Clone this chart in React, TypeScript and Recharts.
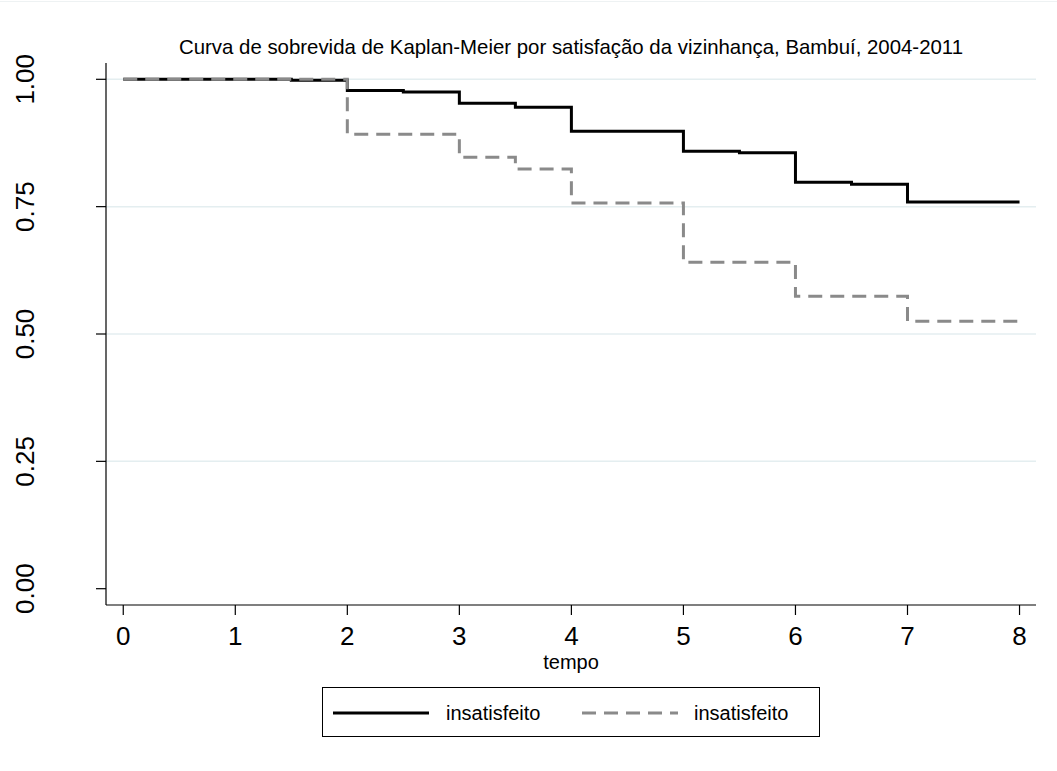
import React from 'react';
import { LineChart, Line, XAxis, YAxis, CartesianGrid, Legend } from 'recharts';

// Kaplan-Meier estimates (step changes only)
const tempo = [0, 1.5, 2, 2.5, 3, 3.5, 4, 5, 5.5, 6, 6.5, 7, 8];
const grupo1 = [1, 0.998, 0.978, 0.975, 0.953, 0.945, 0.898, 0.859, 0.856, 0.798, 0.794, 0.759, 0.759];
const grupo2 = [1, 1, 0.892, 0.892, 0.847, 0.824, 0.757, 0.641, 0.641, 0.574, 0.574, 0.525, 0.525];
const xTicks = [0, 1, 2, 3, 4, 5, 6, 7, 8];
const yTicks = [0, 0.25, 0.5, 0.75, 1];
const gridValues = [0.25, 0.5, 0.75, 1];
const legendLabels = ['insatisfeito', 'insatisfeito'];
const title = 'Curva de sobrevida de Kaplan-Meier por satisfação da vizinhança, Bambuí, 2004-2011';

const data = tempo.map((t, i) => ({ t, g1: grupo1[i], g2: grupo2[i] }));

const FONT = '"Liberation Sans", Arial, sans-serif';
const GRAY = '#8a8a8a';

function YTick({ y, payload }: any) {
  return (
    <text
      transform={`translate(25, ${y}) rotate(-90)`}
      textAnchor="middle"
      dominantBaseline="central"
      fontSize={26}
      fontFamily={FONT}
      fill="#000"
    >
      {Number(payload.value).toFixed(2)}
    </text>
  );
}

function LegendBox() {
  return (
    <div
      style={{
        width: 498,
        height: 50,
        border: '1px solid #000',
        boxSizing: 'border-box',
        position: 'relative',
        fontFamily: FONT,
        fontSize: 20,
        background: '#fff',
      }}
    >
      <svg width={498} height={50} style={{ position: 'absolute', left: 0, top: 0 }}>
        <line x1={10} x2={106} y1={25} y2={25} stroke="#000" strokeWidth={3} />
        <line x1={259} x2={355} y1={25} y2={25} stroke={GRAY} strokeWidth={3} strokeDasharray="14 8" />
        <text x={123} y={25} dominantBaseline="central" fontSize={20} fontFamily={FONT}>{legendLabels[0]}</text>
        <text x={371} y={25} dominantBaseline="central" fontSize={20} fontFamily={FONT}>{legendLabels[1]}</text>
      </svg>
    </div>
  );
}

export default function App() {
  return (
    <div style={{ position: 'absolute', left: 0, top: 0, width: 1057, height: 771, background: '#fff', fontFamily: FONT }}>
      <div style={{ position: 'absolute', left: 0, right: 0, top: 1, height: 1, background: '#eef2f3' }} />
      <div
        style={{ position: 'absolute', left: 106, width: 930, top: 35, textAlign: 'center', fontSize: 20.4, lineHeight: '24px', color: '#000' }}
      >
        {title}
      </div>
      <LineChart
        width={1057}
        height={771}
        data={data}
        margin={{ top: 63, right: 21, bottom: 106, left: 16 }}
      >
        <CartesianGrid horizontal vertical={false} horizontalValues={gridValues} stroke="#e4eef0" strokeWidth={1.5} />
        <XAxis
          dataKey="t"
          type="number"
          domain={[-0.154, 8.147]}
          ticks={xTicks}
          allowDataOverflow
          height={60}
          tickSize={10}
          tickMargin={12}
          axisLine={{ stroke: '#000', strokeWidth: 1.2 }}
          tickLine={{ stroke: '#000', strokeWidth: 1.2 }}
          tick={{ fontSize: 26, fill: '#000', fontFamily: FONT }}
        />
        <YAxis
          type="number"
          domain={[-0.032, 1.032]}
          ticks={yTicks}
          allowDataOverflow
          width={90}
          tickSize={10}
          axisLine={{ stroke: '#000', strokeWidth: 1.2 }}
          tickLine={{ stroke: '#000', strokeWidth: 1.2 }}
          tick={<YTick />}
        />
        <Line
          type="stepAfter"
          dataKey="g1"
          name={legendLabels[0]}
          stroke="#000"
          strokeWidth={3}
          strokeLinejoin="miter"
          dot={false}
          activeDot={false}
          isAnimationActive={false}
        />
        <Line
          type="stepAfter"
          dataKey="g2"
          name={legendLabels[1]}
          stroke={GRAY}
          strokeWidth={3}
          strokeDasharray="14 8"
          strokeLinejoin="miter"
          dot={false}
          activeDot={false}
          isAnimationActive={false}
        />
        <Legend
          layout="horizontal"
          verticalAlign="middle"
          align="center"
          wrapperStyle={{ position: 'absolute', left: 322, top: 687, width: 498, height: 50 }}
          content={() => <LegendBox />}
        />
      </LineChart>
      <div style={{ position: 'absolute', left: 106, width: 930, top: 650, textAlign: 'center', fontSize: 20, lineHeight: '24px', color: '#000' }}>
        tempo
      </div>
    </div>
  );
}
